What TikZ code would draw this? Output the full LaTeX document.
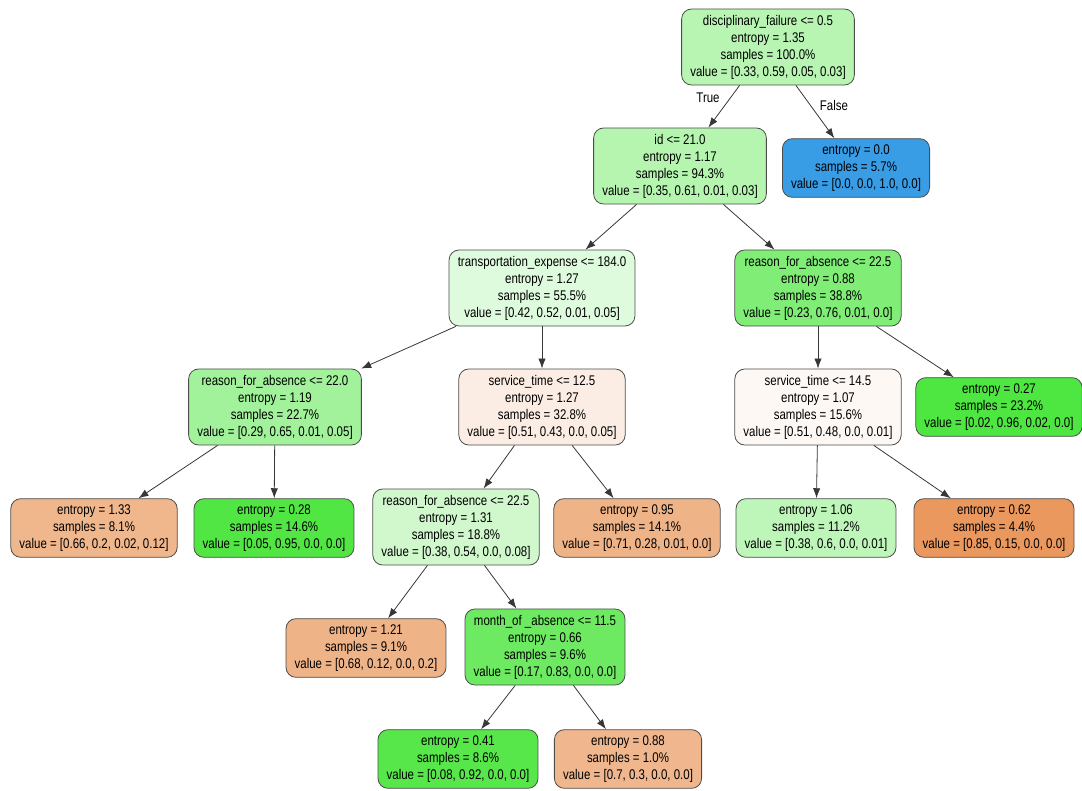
\documentclass[tikz,border=0pt]{standalone}
\usepackage{fontspec}
\setmainfont{Liberation Sans}[FakeStretch=0.82]
\usetikzlibrary{arrows.meta}
\definecolor{clsA}{RGB}{229,129,57}
\definecolor{clsB}{RGB}{71,229,57}
\definecolor{clsC}{RGB}{57,157,229}
\definecolor{edgegray}{RGB}{55,55,55}
\newcommand\treefont{\fontsize{10.5pt}{12.75pt}\selectfont}
\tikzset{
  tn/.style={draw=black!70, line width=0.6pt, rounded corners=7.5pt, align=center,
    inner xsep=6.5pt, inner ysep=4.5pt, font=\treefont},
  ed/.style={draw=edgegray, line width=0.6pt, -{Latex[length=7.5pt,width=5.5pt]}},
  lbl/.style={font=\treefont, inner sep=1pt}
}
\begin{document}
\begin{tikzpicture}[x=0.75pt,y=-0.75pt]
\useasboundingbox (0,0) rectangle (1082,791);
\node[tn, fill=clsB!38.8!white] (root) at (768,47) {disciplinary\_failure <= 0.5\\entropy = 1.35\\samples = 100.0\%\\value = [0.33, 0.59, 0.05, 0.03]};
\node[tn, fill=clsB!40!white] (id) at (680,166) {id <= 21.0\\entropy = 1.17\\samples = 94.3\%\\value = [0.35, 0.61, 0.01, 0.03]};
\node[tn, fill=clsC] (fl) at (856,168) {entropy = 0.0\\samples = 5.7\%\\value = [0.0, 0.0, 1.0, 0.0]};
\node[tn, fill=clsB!17.2!white] (tr) at (542,288) {transportation\_expense <= 184.0\\entropy = 1.27\\samples = 55.5\%\\value = [0.42, 0.52, 0.01, 0.05]};
\node[tn, fill=clsB!68.8!white] (rr) at (818,288) {reason\_for\_absence <= 22.5\\entropy = 0.88\\samples = 38.8\%\\value = [0.23, 0.76, 0.01, 0.0]};
\node[tn, fill=clsB!50.7!white] (rl) at (275,407) {reason\_for\_absence <= 22.0\\entropy = 1.19\\samples = 22.7\%\\value = [0.29, 0.65, 0.01, 0.05]};
\node[tn, fill=clsA!14!white] (sa) at (542,407) {service\_time <= 12.5\\entropy = 1.27\\samples = 32.8\%\\value = [0.51, 0.43, 0.0, 0.05]};
\node[tn, fill=clsA!5.8!white] (sb) at (818,407) {service\_time <= 14.5\\entropy = 1.07\\samples = 15.6\%\\value = [0.51, 0.48, 0.0, 0.01]};
\node[tn, fill=clsB!96!white] (l27) at (999,407) {entropy = 0.27\\samples = 23.2\%\\value = [0.02, 0.96, 0.02, 0.0]};
\node[tn, fill=clsA!57.5!white] (l133) at (94,528) {entropy = 1.33\\samples = 8.1\%\\value = [0.66, 0.2, 0.02, 0.12]};
\node[tn, fill=clsB!94.7!white] (l28) at (274,528) {entropy = 0.28\\samples = 14.6\%\\value = [0.05, 0.95, 0.0, 0.0]};
\node[tn, fill=clsB!25.8!white] (rm) at (456,527) {reason\_for\_absence <= 22.5\\entropy = 1.31\\samples = 18.8\%\\value = [0.38, 0.54, 0.0, 0.08]};
\node[tn, fill=clsA!60!white] (l95) at (637,528) {entropy = 0.95\\samples = 14.1\%\\value = [0.71, 0.28, 0.01, 0.0]};
\node[tn, fill=clsB!35.5!white] (l106) at (816,528) {entropy = 1.06\\samples = 11.2\%\\value = [0.38, 0.6, 0.0, 0.01]};
\node[tn, fill=clsA!82!white] (l62) at (994,528) {entropy = 0.62\\samples = 4.4\%\\value = [0.85, 0.15, 0.0, 0.0]};
\node[tn, fill=clsA!60!white] (l121) at (366,648) {entropy = 1.21\\samples = 9.1\%\\value = [0.68, 0.12, 0.0, 0.2]};
\node[tn, fill=clsB!79.5!white] (mo) at (545,647) {month\_of \_absence <= 11.5\\entropy = 0.66\\samples = 9.6\%\\value = [0.17, 0.83, 0.0, 0.0]};
\node[tn, fill=clsB!91.3!white] (l41) at (458,759) {entropy = 0.41\\samples = 8.6\%\\value = [0.08, 0.92, 0.0, 0.0]};
\node[tn, fill=clsA!57.1!white] (l88) at (628,759) {entropy = 0.88\\samples = 1.0\%\\value = [0.7, 0.3, 0.0, 0.0]};
\draw[ed] (root) -- (id);
\draw[ed] (root) -- (fl);
\draw[ed] (id) -- (tr);
\draw[ed] (id) -- (rr);
\draw[ed] (tr) -- (rl);
\draw[ed] (tr) -- (sa);
\draw[ed] (rr) -- (sb);
\draw[ed] (rr) -- (l27);
\draw[ed] (rl) -- (l133);
\draw[ed] (rl) -- (l28);
\draw[ed] (sa) -- (rm);
\draw[ed] (sa) -- (l95);
\draw[ed] (sb) -- (l106);
\draw[ed] (sb) -- (l62);
\draw[ed] (rm) -- (l121);
\draw[ed] (rm) -- (mo);
\draw[ed] (mo) -- (l41);
\draw[ed] (mo) -- (l88);
\node[lbl] (tlab) at (708,98) {True};
\node[lbl] (flab) at (834,106) {False};
\end{tikzpicture}
\end{document}
